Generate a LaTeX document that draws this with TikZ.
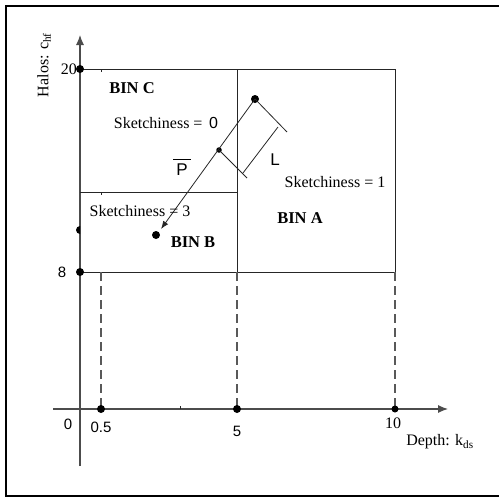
\documentclass[tikz,border=0pt]{standalone}
\usepackage{fontspec}
\setmainfont{Liberation Serif}
\newfontfamily\sansf{Liberation Sans}
\usetikzlibrary{arrows.meta}
\begin{document}
\begin{tikzpicture}[x=1pt,y=-1pt,
  lbl/.style={inner sep=0pt,font=\fontsize{16}{18}\selectfont},
  slbl/.style={inner sep=0pt,font=\sansf\fontsize{15}{17}\selectfont},
  binlbl/.style={inner sep=0pt,font=\bfseries\fontsize{16.5}{18}\selectfont},
  axis/.style={draw=black!70,line width=1.1pt,-{Latex[length=10pt,width=8pt]}},
  boxline/.style={draw=black!85,line width=0.9pt},
  dashline/.style={draw=black!65,line width=1.1pt,dash pattern=on 9pt off 5pt},
  dot/.style={circle,fill=black,inner sep=0pt,minimum size=8pt},
  smalldot/.style={circle,fill=black,inner sep=0pt,minimum size=5.5pt},
  thin/.style={draw=black!85,line width=0.8pt}]
\useasboundingbox (0,0) rectangle (499,498);
% frame
\draw[line width=2.6pt] (502,6) -- (6,6) -- (6,496) -- (502,496);
% key coordinates
\coordinate (o) at (80,409);
\coordinate (ytop) at (80,35);
\coordinate (ybot) at (80,466);
\coordinate (xl) at (53,409);
\coordinate (xr) at (448,409);
\coordinate (c20) at (80,69);
\coordinate (c8) at (80,272);
\coordinate (m20) at (237,69);
\coordinate (r20) at (395,69);
\coordinate (m8) at (237,272);
\coordinate (r8) at (395,272);
\coordinate (l192) at (80,192);
\coordinate (m192) at (237,192);
\coordinate (h8) at (101,272);
\coordinate (x05) at (101,409);
\coordinate (x5) at (237,409);
\coordinate (x10) at (395,409);
% axes
\draw[axis] (ybot) -- (ytop);
\draw[axis] (xl) -- (xr);
% bins
\draw[boxline] (c20) -- (r20) -- (r8) -- (c8);
\draw[boxline] (m20) -- (m8);
\draw[boxline] (l192) -- (m192);
% dashed projections
\draw[dashline] (h8) -- (x05);
\draw[dashline] (m8) -- (x5);
\draw[dashline] (r8) -- (x10);
% small ticks
\draw[thin] (101,69) -- (101,72);
\draw[thin] (101,192) -- (101,195);
\draw[thin] (180,409) -- (180,406);
% dots
\node[dot] (d20) at (c20) {};
\node[dot] (d8) at (c8) {};
\node[dot] (d05) at (x05) {};
\node[dot] (d5) at (x5) {};
\node[dot,minimum size=7pt] (d10) at (x10) {};
\fill (80,234) arc[start angle=90,end angle=270,radius=4] -- cycle;
% vector P
\node[dot] (ptop) at (255,99) {};
\node[smalldot] (pmid) at (219,150) {};
\node[dot] (pend) at (156,235) {};
\coordinate (ptip) at (161,229);
\draw[thin,-{Latex[length=8pt,width=6pt]}] (ptop.center) -- (ptip);
% L dimension
\coordinate (e1) at (287,132);
\coordinate (e2) at (247,178);
\draw[thin] (ptop.center) -- (e1);
\draw[thin] (pmid.center) -- (e2);
\coordinate (dl1) at (278,127);
\coordinate (dl2) at (243,173);
\draw[thin] (dl1) -- (dl2);
% labels
\node[lbl,anchor=east] (t20) at (77,69) {20};
\node[slbl] (t8) at (62,272) {8};
\node[slbl] (t0) at (68,424) {0};
\node[slbl] (t05) at (101,427) {0.5};
\node[slbl] (t5) at (237,431) {5};
\node[lbl] (t10) at (393,423) {10};
\node[lbl] (depth) at (440,442) {Depth: k\textsubscript{ds}};
\node[lbl,rotate=90] (halos) at (44,65) {Halos: c\textsubscript{hf}};
\node[binlbl] (binc) at (132,88) {BIN C};
\node[binlbl] (binb) at (193,242) {BIN B};
\node[binlbl] (bina) at (300,218) {BIN A};
\node[lbl] (s0) at (166,123) {Sketchiness = \,{\sansf 0}};
\node[lbl] (s3) at (140,211) {Sketchiness = 3};
\node[lbl] (s1) at (335,182) {Sketchiness = 1};
\node[slbl,font=\sansf\fontsize{17}{19}\selectfont] (pbar) at (182,167) {$\overline{\hbox{\raisebox{0pt}[1.35\height]{\,\sansf\fontsize{17}{19}\selectfont P\,}}}$};
\node[slbl,font=\sansf\fontsize{17}{19}\selectfont] (lL) at (275,160) {L};
\end{tikzpicture}
\end{document}
